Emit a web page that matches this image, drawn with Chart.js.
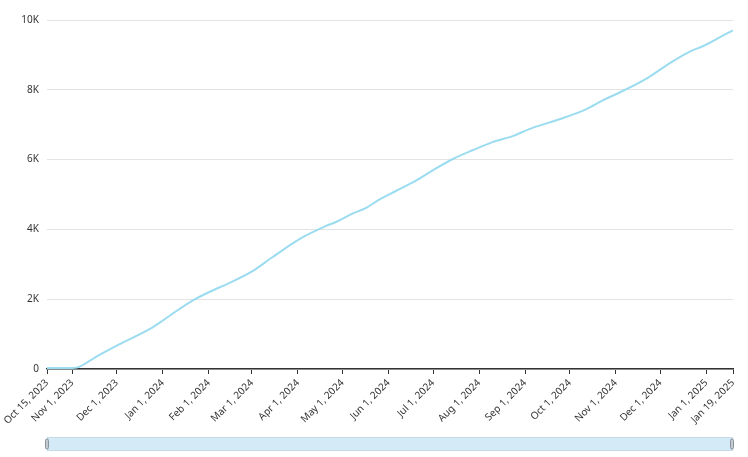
<!DOCTYPE html>
<html>
<head>
<meta charset="utf-8">
<script src="https://cdn.jsdelivr.net/npm/chart.js@4.4.1/dist/chart.umd.min.js"></script>
<style>
  html, body { margin: 0; padding: 0; background: #fff; }
  #wrap { width: 748px; height: 457px; }
</style>
</head>
<body>
<div id="wrap"><canvas id="myChart"></canvas></div>
<script>
// cumulative count
const dates = ['2023-10-15', '2023-11-01', '2023-11-04', '2023-11-17', '2023-12-01', '2023-12-23', '2023-12-30',
  '2024-01-07', '2024-01-21', '2024-02-02', '2024-02-15', '2024-03-02', '2024-03-14', '2024-04-04',
  '2024-04-20', '2024-04-27', '2024-05-07', '2024-05-17', '2024-05-26', '2024-06-06', '2024-06-20', '2024-07-03',
  '2024-07-14', '2024-07-28', '2024-08-10', '2024-08-24', '2024-09-06', '2024-09-24', '2024-10-12', '2024-10-23',
  '2024-11-04', '2024-11-22', '2024-12-08', '2024-12-20', '2024-12-30', '2025-01-10', '2025-01-19'];
const values = [30, 30, 40, 350, 670, 1140, 1330,
  1570, 1960, 2220, 2470, 2820, 3180, 3770,
  4100, 4220, 4440, 4620, 4860, 5100, 5415, 5750,
  6010, 6275, 6500, 6680, 6910, 7155, 7440, 7690,
  7930, 8330, 8780, 9075, 9255, 9505, 9700];

const tickDates = ['2023-10-15', '2023-11-01', '2023-12-01', '2024-01-01', '2024-02-01', '2024-03-01', '2024-04-01',
  '2024-05-01', '2024-06-01', '2024-07-01', '2024-08-01', '2024-09-01', '2024-10-01', '2024-11-01', '2024-12-01',
  '2025-01-01', '2025-01-19'];
const yTicks = [0, 2000, 4000, 6000, 8000, 10000];

const months = ['Jan', 'Feb', 'Mar', 'Apr', 'May', 'Jun', 'Jul', 'Aug', 'Sep', 'Oct', 'Nov', 'Dec'];
const DAY = 86400000;
const t0 = Date.parse(dates[0]);
function dayOf(s) { return (Date.parse(s) - t0) / DAY; }
function labelOf(d) {
  var dt = new Date(t0 + d * DAY);
  return months[dt.getUTCMonth()] + ' ' + dt.getUTCDate() + ', ' + dt.getUTCFullYear();
}

const points = dates.map(function (s, i) { return { x: dayOf(s), y: values[i] }; });
const xTickVals = tickDates.map(dayOf);

// slider drawn under the axis
const sliderPlugin = {
  id: 'slider',
  afterDraw: function (chart) {
    var ctx = chart.ctx, a = chart.chartArea;
    var top = 437, h = 14;
    ctx.save();
    ctx.fillStyle = '#d4eaf6';
    ctx.strokeStyle = '#c4dcea';
    ctx.lineWidth = 1;
    ctx.fillRect(a.left, top, a.right - a.left, h);
    ctx.strokeRect(a.left + 0.5, top + 0.5, a.right - a.left - 1, h - 1);
    [a.left, a.right - 1].forEach(function (x) {
      ctx.fillStyle = '#c3cad0';
      ctx.strokeStyle = '#8a949c';
      ctx.beginPath();
      ctx.roundRect(x - 1.5, top + 2, 3, h - 4, 1.5);
      ctx.fill();
      ctx.stroke();
    });
    ctx.restore();
  }
};

const config = {
  type: 'line',
  data: {
    datasets: [{
      data: points,
      borderColor: '#9bdcf0',
      borderWidth: 2,
      pointRadius: 0,
      cubicInterpolationMode: 'monotone',
      fill: false,
    }],
  },
  options: {
    responsive: true,
    maintainAspectRatio: false,
    animation: false,
    layout: { padding: { top: 20, right: 15, left: 0, bottom: 0 } },
    plugins: { legend: { display: false }, tooltip: { enabled: false } },
    scales: {
      x: {
        type: 'linear',
        min: 0,
        max: dayOf(dates[dates.length - 1]),
        afterBuildTicks: function (s) { s.ticks = xTickVals.map(function (v) { return { value: v }; }); },
        afterFit: function (s) { s.height = 88; },
        grid: { display: true, drawOnChartArea: false, drawTicks: true, tickLength: 5, color: '#333' },
        border: { display: true, color: '#333', width: 1.5 },
        ticks: {
          autoSkip: false,
          minRotation: 45,
          maxRotation: 45,
          padding: 3,
          color: '#333',
          font: { family: 'Noto Sans', size: 10 },
          callback: function (v) { return labelOf(v); },
        },
      },
      y: {
        min: 0,
        max: 10000,
        afterBuildTicks: function (s) { s.ticks = yTicks.map(function (v) { return { value: v }; }); },
        afterFit: function (s) { s.width = 47; },
        grid: { color: '#e3e3e3', drawTicks: false },
        border: { display: false },
        ticks: {
          padding: 8,
          color: '#333',
          font: { family: 'Noto Sans', size: 10 },
          callback: function (v) { return v === 0 ? '0' : (v / 1000) + 'K'; },
        },
      },
    },
  },
  plugins: [sliderPlugin],
};
const myChart = new Chart(document.getElementById('myChart'), config);
</script>
</body>
</html>
